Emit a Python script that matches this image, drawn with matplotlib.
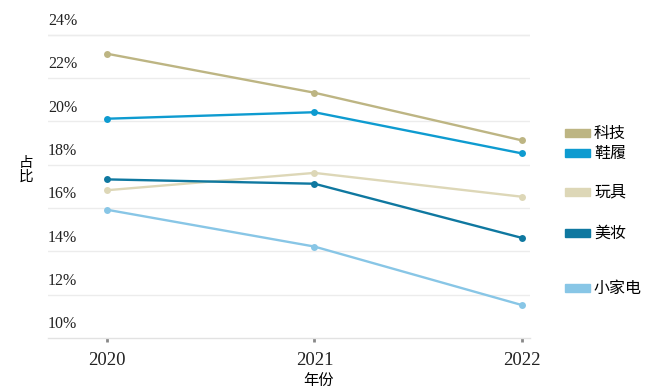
import matplotlib
matplotlib.use("Agg")
import matplotlib.pyplot as plt
from matplotlib.patches import Rectangle

plt.rcParams['font.family'] = ['Liberation Serif', 'Noto Sans CJK SC', 'DejaVu Sans']

years = [2020, 2021, 2022]
categories = ["科技", "鞋履", "玩具", "美妆", "小家电"]
keji = [22.4, 20.6, 18.4]
xielv = [19.4, 19.7, 17.8]
wanju = [16.1, 16.9, 15.8]
meizhuang = [16.6, 16.4, 13.9]
xiaojiadian = [15.2, 13.5, 10.8]
series = [keji, xielv, wanju, meizhuang, xiaojiadian]
colors = ["#bdb583", "#0e9bd0", "#ddd7b7", "#0f78a0", "#88c6e6"]
ytick_values = [10, 12, 14, 16, 18, 20, 22, 24]
ytick_labels = ["10%", "12%", "14%", "16%", "18%", "20%", "22%", "24%"]
legend_y_px = [133, 153, 192, 233, 288]

W, H = 660, 392
fig = plt.figure(figsize=(W / 100, H / 100), dpi=100)
ax = fig.add_axes([48 / W, 1 - 338 / H, (530 - 48) / W, (338 - 8) / H])

grid_off = 0.72
for vals, c in zip(series, colors):
    ax.plot(years, vals, color=c, lw=1.7, marker='o', markersize=5,
            markeredgewidth=0, solid_capstyle='round', zorder=3)

ax.set_xlim(2019.716, 2022.039)
ax.set_ylim(10 - grid_off, 24.51)

ax.set_yticks(ytick_values)
ax.set_yticklabels(ytick_labels, fontsize=11.5, color='#222222')
for lab in ax.get_yticklabels():
    lab.set_horizontalalignment('left')
ax.tick_params(axis='y', which='major', length=0, pad=0)
ax.set_yticks([v - grid_off for v in ytick_values[1:]] + [24 - grid_off], minor=True)
ax.tick_params(axis='y', which='minor', length=0)
ax.grid(True, axis='y', which='minor', color='#ececec', lw=1.0)
ax.grid(False, axis='y', which='major')

ax.set_xticks(years)
ax.set_xticklabels([str(y) for y in years], fontsize=13.5, color='#222222')
ax.tick_params(axis='x', length=3, width=2, color='#888888', pad=7)
ax.set_xlabel("年份", fontsize=11, family=['Noto Sans CJK SC'])
ax.xaxis.set_label_coords((319 - 48) / (530 - 48), -(380 - 338) / (338 - 8))
ax.xaxis.label.set_verticalalignment('center')

for s in ['top', 'right', 'left']:
    ax.spines[s].set_visible(False)
ax.spines['bottom'].set_color('#e2e2e2')
ax.spines['bottom'].set_linewidth(1.0)

fig.text(26 / W, 1 - 170 / H, "占\n比", ha='center', va='center', fontsize=10.5,
         family=['Noto Sans CJK SC'], linespacing=1.0)

for name, c, ypx in zip(categories, colors, legend_y_px):
    fig.patches.append(Rectangle((565 / W, 1 - (ypx + 4) / H), 25 / W, 8 / H,
                                 transform=fig.transFigure, color=c))
    fig.text(594 / W, 1 - ypx / H, name, ha='left', va='center', fontsize=11.5,
             family=['Noto Sans CJK SC'])

fig.savefig("out.png", dpi=100)
